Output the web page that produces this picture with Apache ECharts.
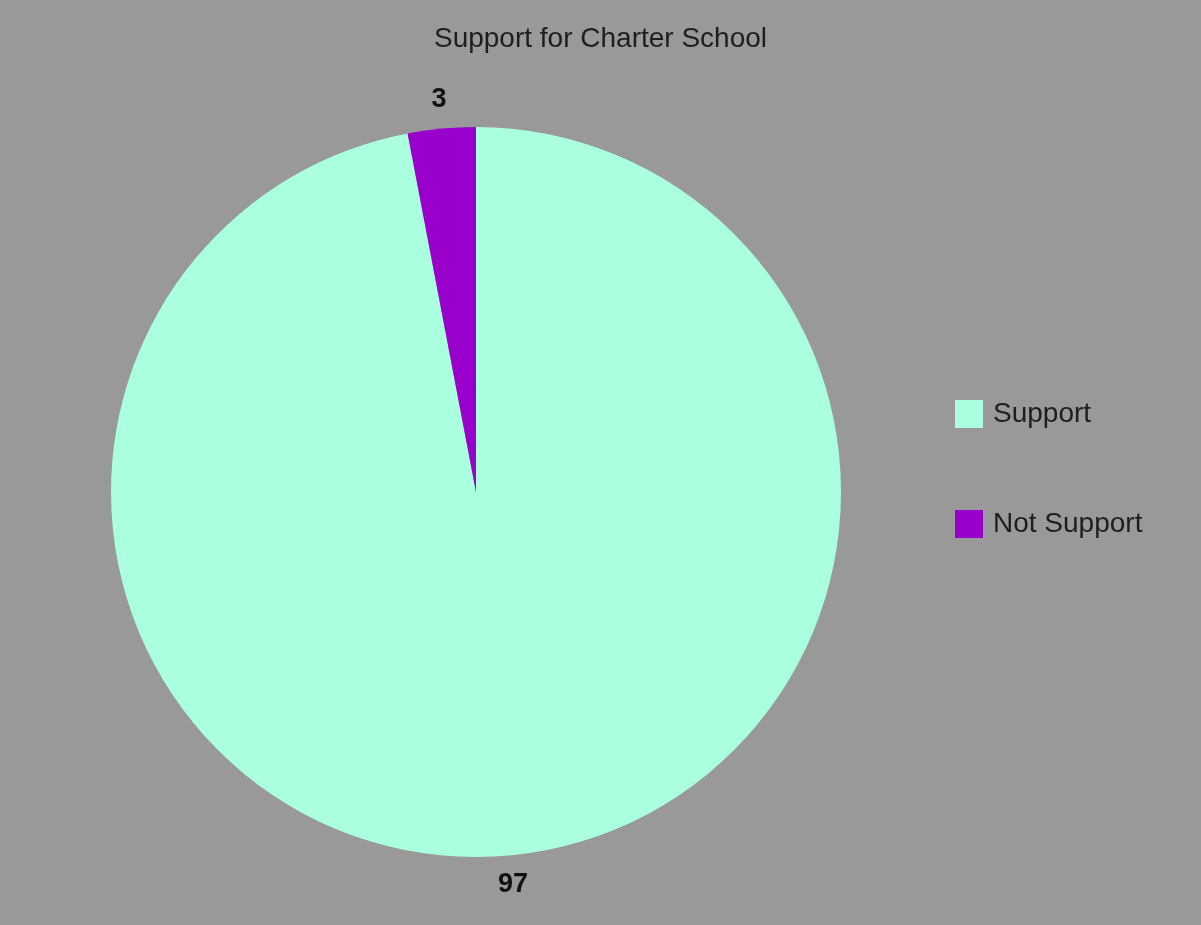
<!DOCTYPE html>
<html>
<head>
<meta charset="utf-8">
<title>Support for Charter School</title>
<script src="https://cdn.jsdelivr.net/npm/echarts@6/dist/echarts.min.js"></script>
<style>
  html, body { margin: 0; padding: 0; background: #999999; }
  #chart { width: 1201px; height: 925px; }
</style>
</head>
<body>
<div id="chart"></div>
<script>
// Survey answers and their counts
const categories = ['Support', 'Not Support'];
const counts = [97, 3];
const sliceColors = ['#aaffdf', '#9900cc'];

const FONT = '"Liberation Sans", Arial, sans-serif';

const pieData = categories.map((name, i) => ({
  name: name,
  value: counts[i],
  itemStyle: { color: sliceColors[i] }
}));

// Transparent outer ring used only to place the value labels just outside the pie
const labelData = categories.map((name, i) => ({
  name: name,
  value: counts[i],
  itemStyle: { color: 'rgba(0,0,0,0)' }
}));

const chart = echarts.init(document.getElementById('chart'), null, { renderer: 'canvas' });

chart.setOption({
  backgroundColor: '#999999',
  animation: false,
  title: {
    text: 'Support for Charter School',
    left: 'center',
    top: 20,
    textStyle: { fontFamily: FONT, fontSize: 28, fontWeight: 'normal', color: '#1e1e1e' }
  },
  legend: {
    data: categories,
    orient: 'vertical',
    left: 950,
    top: 395,
    icon: 'rect',
    itemWidth: 28,
    itemHeight: 28,
    itemGap: 82,
    textStyle: { fontFamily: FONT, fontSize: 28, color: '#1e1e1e', padding: [0, 0, 0, 5] },
    selectedMode: false
  },
  series: [
    {
      type: 'pie',
      center: [476, 492],
      radius: 365,
      startAngle: 90,
      clockwise: true,
      data: pieData,
      itemStyle: { borderWidth: 0 },
      label: { show: false },
      labelLine: { show: false },
      emphasis: { disabled: true }
    },
    {
      type: 'pie',
      center: [476, 492],
      radius: [366, 416],
      startAngle: 90,
      clockwise: true,
      silent: true,
      data: labelData,
      itemStyle: { borderWidth: 0 },
      label: {
        show: true,
        position: 'inside',
        formatter: '{c}',
        fontFamily: FONT,
        fontSize: 27,
        fontWeight: 'bold',
        color: '#111111'
      },
      labelLine: { show: false },
      emphasis: { disabled: true }
    }
  ]
});
</script>
</body>
</html>
